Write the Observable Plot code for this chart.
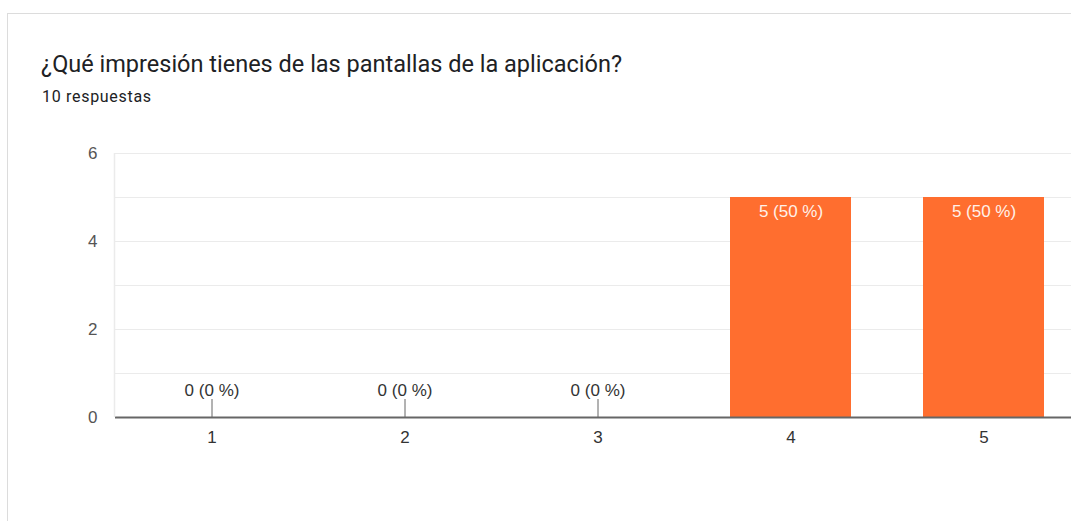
<!DOCTYPE html>
<html lang="es">
<head>
<meta charset="utf-8">
<script src="https://cdn.jsdelivr.net/npm/d3@7"></script>
<script src="https://cdn.jsdelivr.net/npm/@observablehq/plot@0.6"></script>
<style>
  html, body { margin: 0; padding: 0; background: #fff; overflow: hidden; width: 1071px; height: 521px; }
  body { position: relative; font-family: Roboto, "Noto Sans", sans-serif; }
  .card { position: absolute; left: 7px; top: 13px; width: 1100px; height: 560px; border: 1.5px solid #dcdcdc; box-sizing: border-box; }
  .title { position: absolute; left: 41px; top: 50px; font-size: 23.5px; color: #202124; white-space: nowrap; }
  .sub { position: absolute; left: 42px; top: 87px; font-size: 16px; letter-spacing: 0.7px; color: #202124; white-space: nowrap; }
  #chart { position: absolute; left: 0; top: 130px; }
  #chart svg { max-width: none; }
</style>
</head>
<body>
<div class="card"></div>
<div class="title">¿Qué impresión tienes de las pantallas de la aplicación?</div>
<div class="sub">10 respuestas</div>
<div id="chart"></div>
<script>
// Answers on a 1–5 scale and how many people picked each one
const categories = ["1", "2", "3", "4", "5"];
const counts = [0, 0, 0, 5, 5];
const yTicks = [0, 2, 4, 6];
const gridValues = [1, 2, 3, 4, 5, 6];

const total = d3.sum(counts);
const rows = categories.map((c, i) => ({
  cat: c,
  count: counts[i],
  label: `${counts[i]} (${Math.round(counts[i] / total * 100)} %)`
}));
const filled = rows.filter(d => d.count > 0);
const empty = rows.filter(d => d.count === 0);

const chartFont = "'Liberation Sans', Arial, sans-serif";
const marginLeft = 115;
const marginTop = 23;
const height = 337;
const marginBottom = 50;

const plot = Plot.plot({
  width: 1080,
  height,
  marginLeft,
  marginRight: 0,
  marginTop,
  marginBottom,
  style: { fontFamily: chartFont, fontSize: "17px", background: "transparent", overflow: "visible", maxWidth: "none" },
  x: { domain: categories, paddingInner: 0.375, paddingOuter: 0.1875, label: null },
  y: { domain: [0, 6], label: null },
  marks: [
    Plot.ruleY(gridValues, { stroke: "#ebebeb", strokeWidth: 1 }),
    Plot.barY(filled, { x: "cat", y: "count", fill: "#ff6e2f" }),
    Plot.text(filled, { x: "cat", y: "count", text: "label", dy: 14, fill: "#fff1e9", fontSize: 17 }),
    Plot.ruleX(empty, { x: "cat", y1: "count", y2: "count", insetTop: -18, stroke: "#666", strokeWidth: 1 }),
    Plot.text(empty, { x: "cat", y: "count", text: "label", dy: -27, fill: "#333", fontSize: 17 }),
    Plot.ruleY([0], { stroke: "#666", strokeWidth: 2 }),
    Plot.axisX({ tickSize: 0, tickPadding: 13, fill: "#333", fontSize: 17 }),
    Plot.axisY({ ticks: yTicks, tickFormat: d3.format("d"), tickSize: 0, tickPadding: 18, fill: "#555", fontSize: 17 })
  ]
});

// light vertical line along the left edge of the plot area
d3.select(plot).append("line")
  .attr("x1", marginLeft - 0.5).attr("x2", marginLeft - 0.5)
  .attr("y1", marginTop).attr("y2", height - marginBottom)
  .attr("stroke", "#ebebeb").attr("stroke-width", 1.5);

document.getElementById("chart").appendChild(plot);
</script>
</body>
</html>
